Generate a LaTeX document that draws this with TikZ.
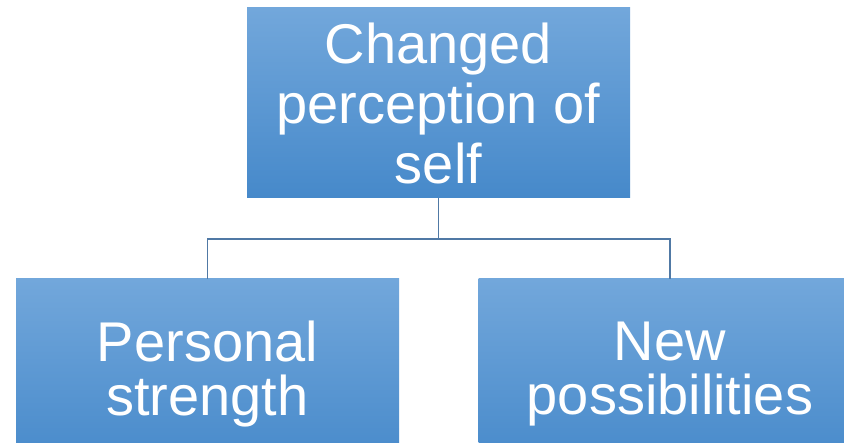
\documentclass[tikz,border=0pt]{standalone}
\usepackage{fontspec}
\setmainfont{Liberation Sans}
\usetikzlibrary{calc}

\definecolor{boxtop}{RGB}{114,167,219}
\definecolor{boxbot}{RGB}{70,137,202}
\definecolor{linkcol}{RGB}{80,121,165}

\tikzset{
    box/.style = {rectangle, inner sep = 0pt, minimum width = 383pt, minimum height = 190pt,
                  top color = boxtop, bottom color = boxbot, text = white, align = center},
    link/.style = {draw = linkcol, line width = 1.4pt}
}

\begin{document}
\begin{tikzpicture}[x = 1pt, y = 1pt]
    \clip (0, 0) rectangle (844, 443);
    \fill[white] (0, 0) rectangle (844, 443);

    \node[box, font = \fontsize{56}{60}\selectfont] (self) at (438.5, 340) {Changed\\perception of\\self};
    \node[box, font = \fontsize{56}{54}\selectfont] (strength) at (207.5, 69) {Personal\\strength};
    \node[box, font = \fontsize{56}{54}\selectfont] (possib) at (670, 69) {New\\possibilities};

    \coordinate (split) at (self.south |- 0, 204);

    \draw[link] (self.south) -- (split) -| (strength.north);
    \draw[link] (split) -| (possib.north);
\end{tikzpicture}
\end{document}
